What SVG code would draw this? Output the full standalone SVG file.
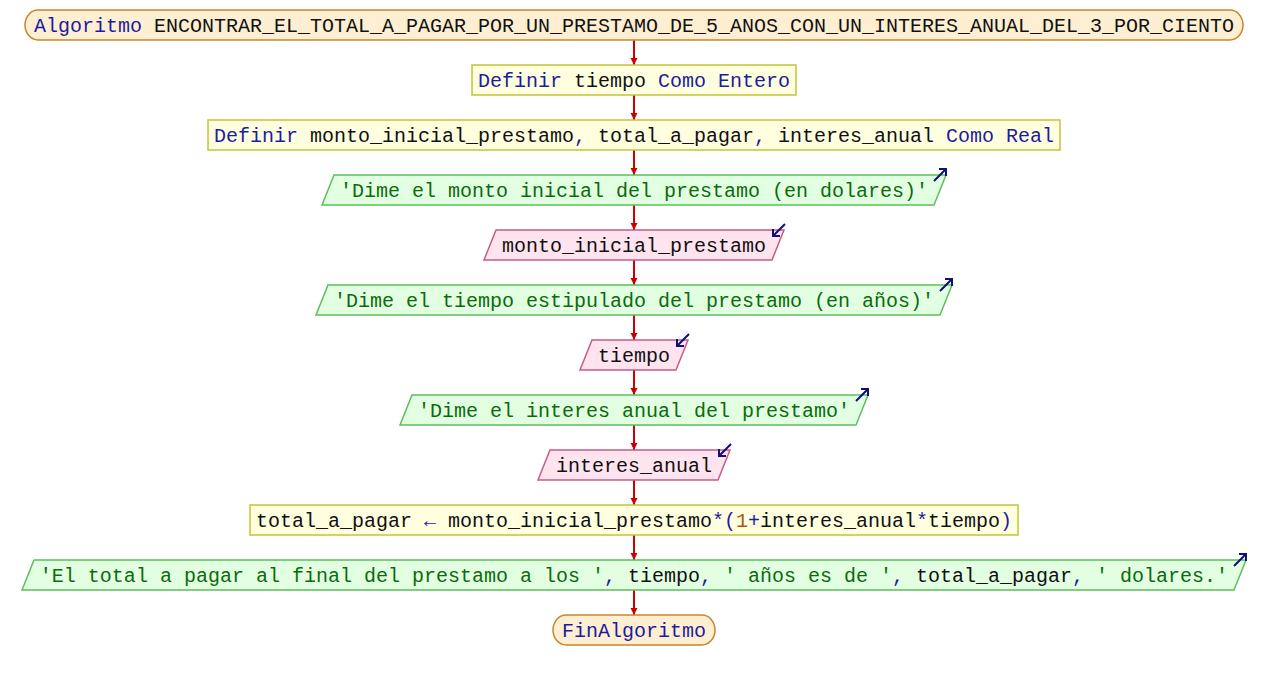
<svg xmlns="http://www.w3.org/2000/svg" width="1268" height="680" viewBox="0 0 1268 680">
<style>
text{font-family:"Liberation Mono","DejaVu Sans Mono",monospace;font-size:20px;text-anchor:middle;white-space:pre;fill:#111}
.k{fill:#1c1ca0}.i{fill:#111}.s{fill:#0b6b0b}.n{fill:#a8561c}
.term{fill:#ffefd2;stroke:#c8862c;stroke-width:1.5}
.def{fill:#ffffe0;stroke:#c4c43a;stroke-width:1.5}
.out{fill:#e2ffe2;stroke:#5cbe5c;stroke-width:1.5}
.in{fill:#ffe4f0;stroke:#c85a8c;stroke-width:1.5}
.ico{fill:none;stroke:#10107a;stroke-width:2}
.conn{stroke:#cc0000;stroke-width:2;fill:none;marker-end:url(#ah)}
</style>
<defs>
<marker id="ah" viewBox="0 0 10 10" refX="10" refY="5" markerWidth="7" markerHeight="10" markerUnits="userSpaceOnUse" orient="auto">
<path d="M0,0 L10,5 L0,10 z" fill="#cc0000"/>
</marker>
</defs>
<g id="connectors">
<path class="conn" d="M634 40V65"/>
<path class="conn" d="M634 95V120"/>
<path class="conn" d="M634 150V175"/>
<path class="conn" d="M634 205V230"/>
<path class="conn" d="M634 260V285"/>
<path class="conn" d="M634 315V340"/>
<path class="conn" d="M634 370V395"/>
<path class="conn" d="M634 425V450"/>
<path class="conn" d="M634 480V505"/>
<path class="conn" d="M634 535V560"/>
<path class="conn" d="M634 590V615"/>
</g>
<g id="start">
<rect class="term" x="25" y="10" width="1218" height="30" rx="13" ry="15"/>
<text x="634" y="32"><tspan class="k">Algoritmo </tspan><tspan class="i">ENCONTRAR_EL_TOTAL_A_PAGAR_POR_UN_PRESTAMO_DE_5_ANOS_CON_UN_INTERES_ANUAL_DEL_3_POR_CIENTO</tspan></text>
</g>
<g id="def1">
<rect class="def" x="472" y="65" width="324" height="30"/>
<text x="634" y="87"><tspan class="k">Definir </tspan><tspan class="i">tiempo</tspan><tspan class="k"> Como Entero</tspan></text>
</g>
<g id="def2">
<rect class="def" x="208" y="120" width="852" height="30"/>
<text x="634" y="142"><tspan class="k">Definir </tspan><tspan class="i">monto_inicial_prestamo</tspan><tspan class="k">, </tspan><tspan class="i">total_a_pagar</tspan><tspan class="k">, </tspan><tspan class="i">interes_anual</tspan><tspan class="k"> Como Real</tspan></text>
</g>
<g id="out1">
<polygon class="out" points="334,175 946,175 934,205 322,205"/>
<text x="634" y="197" class="s">'Dime el monto inicial del prestamo (en dolares)'</text>
<path class="ico" d="M934 181L946 169M939 169H946V176"/>
</g>
<g id="in1">
<polygon class="in" points="496,230 784,230 772,260 484,260"/>
<text x="634" y="252" class="i">monto_inicial_prestamo</text>
<path class="ico" d="M785 224L773 236M773 229V236H780"/>
</g>
<g id="out2">
<polygon class="out" points="328,285 952,285 940,315 316,315"/>
<text x="634" y="307" class="s">'Dime el tiempo estipulado del prestamo (en años)'</text>
<path class="ico" d="M940 291L952 279M945 279H952V286"/>
</g>
<g id="in2">
<polygon class="in" points="592,340 688,340 676,370 580,370"/>
<text x="634" y="362" class="i">tiempo</text>
<path class="ico" d="M689 334L677 346M677 339V346H684"/>
</g>
<g id="out3">
<polygon class="out" points="412,395 868,395 856,425 400,425"/>
<text x="634" y="417" class="s">'Dime el interes anual del prestamo'</text>
<path class="ico" d="M856 401L868 389M861 389H868V396"/>
</g>
<g id="in3">
<polygon class="in" points="550,450 730,450 718,480 538,480"/>
<text x="634" y="472" class="i">interes_anual</text>
<path class="ico" d="M731 444L719 456M719 449V456H726"/>
</g>
<g id="assign">
<rect class="def" x="250" y="505" width="768" height="30"/>
<text x="634" y="527"><tspan class="i">total_a_pagar </tspan><tspan class="k">←</tspan><tspan class="i"> monto_inicial_prestamo</tspan><tspan class="k">*(</tspan><tspan class="n">1</tspan><tspan class="k">+</tspan><tspan class="i">interes_anual</tspan><tspan class="k">*</tspan><tspan class="i">tiempo</tspan><tspan class="k">)</tspan></text>
</g>
<g id="out4">
<polygon class="out" points="34,560 1246,560 1234,590 22,590"/>
<text x="634" y="582"><tspan class="s">'El total a pagar al final del prestamo a los '</tspan><tspan class="k">, </tspan><tspan class="i">tiempo</tspan><tspan class="k">, </tspan><tspan class="s">' años es de '</tspan><tspan class="k">, </tspan><tspan class="i">total_a_pagar</tspan><tspan class="k">, </tspan><tspan class="s">' dolares.'</tspan></text>
<path class="ico" d="M1234 566L1246 554M1239 554H1246V561"/>
</g>
<g id="end">
<rect class="term" x="553" y="615" width="162" height="30" rx="13" ry="15"/>
<text x="634" y="637" class="k">FinAlgoritmo</text>
</g>
</svg>
